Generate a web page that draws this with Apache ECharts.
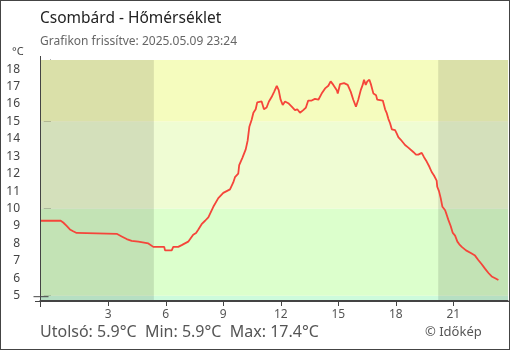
<!DOCTYPE html>
<html><head><meta charset="utf-8">
<script src="https://cdn.jsdelivr.net/npm/echarts@6/dist/echarts.min.js"></script>
<style>html,body{margin:0;padding:0;background:#fff}#c{width:510px;height:350px;box-sizing:border-box;border:1px solid #444}</style>
</head><body><div id="c"></div>
<script>
// Time of day (hours) and temperature readings (°C)
const hours = [-0.56,0.52,0.65,0.83,1.00,1.17,1.35,3.44,3.52,3.70,3.96,4.22,4.57,4.65,5.09,5.14,5.35,5.92,5.96,6.31,6.39,6.65,6.83,7.00,7.17,7.30,7.43,7.58,7.70,7.87,8.05,8.22,8.48,8.74,9.00,9.35,9.52,9.61,9.78,9.83,9.99,10.17,10.27,10.36,10.48,10.57,10.69,10.77,10.86,11.00,11.12,11.26,11.38,11.52,11.65,11.79,11.89,11.99,12.10,12.22,12.39,12.57,12.74,12.86,13.00,13.17,13.31,13.43,13.61,13.78,13.96,14.13,14.31,14.48,14.60,14.74,14.92,14.97,15.09,15.30,15.39,15.49,15.65,15.78,15.92,16.04,16.17,16.27,16.34,16.43,16.51,16.62,16.71,16.83,16.97,17.03,17.32,17.44,17.52,17.61,17.70,17.79,17.96,18.05,18.13,18.26,18.48,18.65,18.91,19.05,19.17,19.35,19.47,19.61,19.75,19.87,19.99,20.13,20.16,20.25,20.34,20.43,20.57,20.65,20.74,20.86,20.97,21.09,21.21,21.31,21.44,21.66,21.91,22.13,22.30,22.48,22.65,22.83,23.00,23.18,23.35,23.40];
const temps = [9.3,9.3,9.2,9.0,8.8,8.7,8.6,8.55,8.45,8.4,8.25,8.15,8.1,8.0,8.0,7.9,7.8,7.8,7.6,7.6,7.8,7.8,7.9,8.0,8.1,8.3,8.5,8.6,8.8,9.1,9.3,9.5,10.1,10.6,10.9,11.1,11.5,11.8,12.0,12.5,12.9,13.4,13.9,14.7,15.1,15.5,15.7,16.1,16.2,16.15,15.7,15.8,16.15,16.4,16.7,17.05,16.8,16.25,15.95,16.15,16.05,15.85,15.65,15.7,15.5,15.65,15.8,16.2,16.2,16.3,16.25,16.6,16.9,17.05,17.3,17.1,16.8,16.6,17.15,17.2,17.3,17.1,16.7,16.25,15.85,16.25,16.8,17.1,17.4,17.1,17.3,17.4,17.1,16.6,16.5,16.25,16.2,15.7,15.5,15.15,14.9,14.55,14.5,14.3,14.1,13.95,13.65,13.5,13.25,13.1,13.1,13.2,12.95,12.7,12.4,12.1,11.9,11.6,11.25,11.0,10.6,10.1,9.9,9.65,9.35,9.0,8.6,8.45,8.1,7.95,7.8,7.6,7.45,7.3,7.05,6.8,6.55,6.3,6.1,6.0,5.9];
const xTicks = [3,6,9,12,15,18,21];
const yTicks = [5,6,7,8,9,10,11,12,13,14,15,16,17,18];
const nights = [[-0.56,5.38],[20.21,23.85]];
const bands = [[4.75,5,'#cdfbdc'],[5,10,'#dcffcc'],[10,15,'#effcd3'],[15,18.53,'#f5fcbe']];
const title = 'Csombárd - Hőmérséklet';
const subtitle = 'Grafikon frissítve: 2025.05.09 23:24';
const footer = 'Utolsó: 5.9°C  Min: 5.9°C  Max: 17.4°C';

const FONT = 'Noto Sans';
const chart = echarts.init(document.getElementById('c'));
const data = hours.map((h,i)=>[h,temps[i]]);
chart.setOption({
  animation:false,
  textStyle:{fontFamily:FONT},
  grid:{left:39,right:1,top:59,bottom:49},
  title:[
    {text:title,left:34,top:5,textStyle:{fontFamily:FONT,fontSize:15.5,fontWeight:'normal',color:'#222'}},
    {text:subtitle,left:34,top:30,textStyle:{fontFamily:FONT,fontSize:12,fontWeight:'normal',color:'#666'}},
    {text:'°C',left:6,top:40,textStyle:{fontFamily:FONT,fontSize:11,fontWeight:'normal',color:'#444'}},
    {text:footer,left:34,top:318,textStyle:{fontFamily:FONT,fontSize:16,fontWeight:'normal',color:'#555'}},
    {text:'© Időkép',left:419,top:320,textStyle:{fontFamily:FONT,fontSize:13,fontWeight:'normal',color:'#555'}}
  ],
  xAxis:{type:'value',min:-0.56,max:23.85,
    axisLine:{show:true,lineStyle:{color:'#444'}},
    axisTick:{show:true,customValues:xTicks,length:6,lineStyle:{color:'#444'}},
    axisLabel:{customValues:xTicks,color:'#555',fontSize:12,margin:9},
    splitLine:{show:false}},
  yAxis:{type:'value',min:4.75,max:18.53,
    axisLine:{show:true,lineStyle:{color:'#444'}},
    axisTick:{show:true,customValues:yTicks,length:7,lineStyle:{color:'#444'}},
    axisLabel:{customValues:yTicks,color:'#444',fontSize:12,margin:20},
    splitLine:{show:false}},
  series:[
    {type:'line',data:[],silent:true,z:1,
      markArea:{silent:true,itemStyle:{opacity:1},data:bands.map(b=>[{yAxis:b[0],itemStyle:{color:b[2]}},{yAxis:b[1]}])}},
    {type:'line',data:[],silent:true,z:2,
      markArea:{silent:true,data:nights.map(n=>[{xAxis:n[0],itemStyle:{color:'rgba(0,0,0,0.11)'}},{xAxis:n[1]}])}},
    {type:'line',data:data,z:5,symbol:'none',lineStyle:{color:'#f5453a',width:1.8},itemStyle:{color:'#f5453a'}}
  ],
  graphic:[
    {type:'line',shape:{x1:32.5,y1:295.7,x2:47.5,y2:295.7},style:{stroke:'#444',lineWidth:1},z:100},
    {type:'line',shape:{x1:39.5,y1:55,x2:39.5,y2:306},style:{stroke:'#444',lineWidth:1},z:100},
    {type:'line',shape:{x1:34,y1:300.5,x2:509,y2:300.5},style:{stroke:'#444',lineWidth:1},z:100}
  ]
});
</script></body></html>
